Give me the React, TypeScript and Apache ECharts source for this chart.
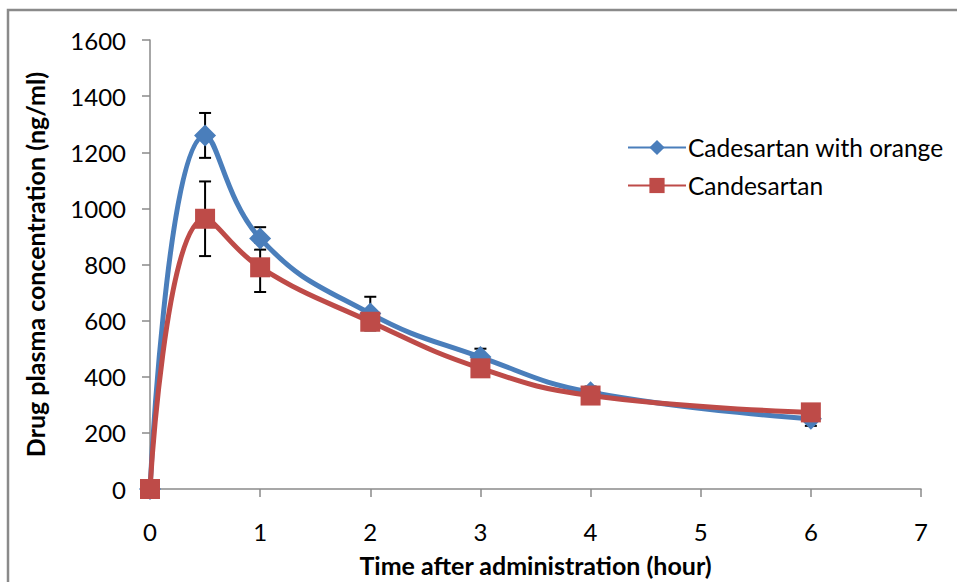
import React, { useEffect, useRef } from "react";
import * as echarts from "echarts";

const times = [0, 0.5, 1, 2, 3, 4, 6];
const orangeValues = [0, 1260, 893, 625, 470, 345, 250];
const orangeErrors = [0, 80, 40, 60, 30, 20, 25];
const candValues = [0, 963, 790, 596, 430, 333, 273];
const candErrors = [0, 133, 88, 25, 20, 15, 20];
const seriesNames = ["Cadesartan with orange", "Candesartan"];
const xTitle = "Time after administration (hour)";
const yTitle = "Drug plasma concentration (ng/ml)";

const FONT = "Lato";
const BLUE = "#4A7EBB";
const RED = "#BE4B48";

function errData(vals: number[], errs: number[]) {
  return times
    .map((t, i) => [t, vals[i] - errs[i], vals[i] + errs[i]])
    .filter((d, i) => errs[i] > 0);
}

const errRender = (params: any, api: any) => {
  const x = api.value(0);
  const lo = api.coord([x, api.value(1)]);
  const hi = api.coord([x, api.value(2)]);
  const w = 6;
  const style = { stroke: "#000", lineWidth: 2 };
  return {
    type: "group",
    children: [
      { type: "line", shape: { x1: lo[0], y1: lo[1], x2: hi[0], y2: hi[1] }, style },
      { type: "line", shape: { x1: lo[0] - w, y1: lo[1], x2: lo[0] + w, y2: lo[1] }, style },
      { type: "line", shape: { x1: hi[0] - w, y1: hi[1], x2: hi[0] + w, y2: hi[1] }, style },
    ],
  };
};

export default function App() {
  const ref = useRef<HTMLDivElement>(null);
  useEffect(() => {
    const chart = echarts.init(ref.current!, null, { renderer: "svg" });
    chart.setOption({
      animation: false,
      backgroundColor: "#fff",
      textStyle: { fontFamily: FONT },
      graphic: [
        {
          type: "rect",
          shape: { x: 8, y: 10, width: 1200, height: 1200 },
          style: { fill: "none", stroke: "#8a8a8a", lineWidth: 2.5 },
          silent: true,
        },
      ],
      grid: { left: 150, right: 36, top: 40, bottom: 91 },
      legend: {
        orient: "vertical",
        left: 622,
        top: 130,
        itemWidth: 58,
        itemHeight: 19,
        itemGap: 13,
        textStyle: { fontFamily: FONT, fontSize: 24.5, lineHeight: 25, color: "#000", padding: [0, 0, 0, -3] },
        data: seriesNames,
      },
      xAxis: {
        type: "value",
        min: 0,
        max: 7,
        interval: 1,
        name: xTitle,
        nameLocation: "middle",
        nameGap: 63,
        nameTextStyle: { fontFamily: FONT, fontSize: 25, fontWeight: "bold", color: "#000" },
        axisLine: { lineStyle: { color: "#8a8a8a", width: 1.5 } },
        axisTick: { show: true, length: 8, lineStyle: { color: "#8a8a8a", width: 1.5 } },
        axisLabel: { fontSize: 24, color: "#000", margin: 30, fontFamily: FONT },
        splitLine: { show: false },
      },
      yAxis: {
        type: "value",
        min: 0,
        max: 1600,
        interval: 200,
        name: yTitle,
        nameLocation: "middle",
        nameGap: 103,
        nameTextStyle: { fontFamily: FONT, fontSize: 25, fontWeight: "bold", color: "#000" },
        axisLine: { show: true, lineStyle: { color: "#8a8a8a", width: 1.5 } },
        axisTick: { show: true, length: 8, lineStyle: { color: "#8a8a8a", width: 1.5 } },
        axisLabel: {
          fontSize: 24,
          color: "#000",
          margin: 24,
          fontFamily: FONT,
          formatter: (v: number) => String(v),
        },
        splitLine: { show: false },
      },
      series: [
        {
          type: "custom",
          name: "errOrange",
          renderItem: errRender,
          data: errData(orangeValues, orangeErrors),
          z: 1,
          silent: true,
        },
        {
          type: "custom",
          name: "errCand",
          renderItem: errRender,
          data: errData(candValues, candErrors),
          z: 1,
          silent: true,
        },
        {
          type: "line",
          name: seriesNames[0],
          data: times.map((t, i) => [t, orangeValues[i]]),
          smooth: 0.45,
          symbol: "diamond",
          symbolSize: 22,
          itemStyle: { color: BLUE },
          lineStyle: { color: BLUE, width: 5 },
          z: 3,
        },
        {
          type: "line",
          name: seriesNames[1],
          data: times.map((t, i) => [t, candValues[i]]),
          smooth: 0.45,
          symbol: "rect",
          symbolSize: 20,
          itemStyle: { color: RED },
          lineStyle: { color: RED, width: 5 },
          z: 4,
        },
      ],
    });
    return () => chart.dispose();
  }, []);
  return (
    <div
      ref={ref}
      style={{ position: "fixed", left: 0, top: 0, width: 957, height: 582 }}
    />
  );
}
